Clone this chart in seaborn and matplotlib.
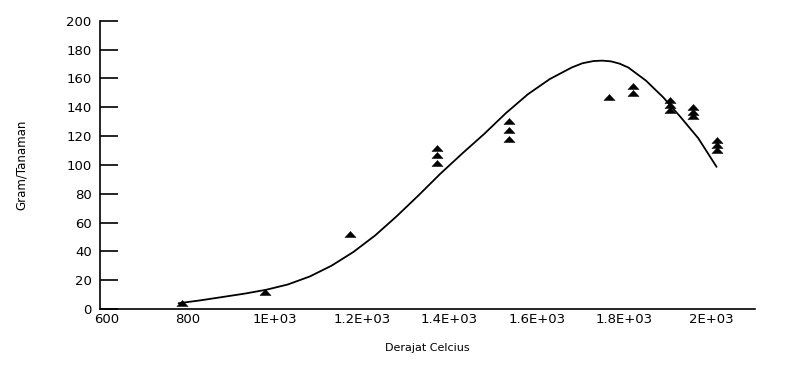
import matplotlib
matplotlib.use("Agg")
import matplotlib.pyplot as plt
from matplotlib.path import Path
from matplotlib.ticker import FixedLocator, FixedFormatter
from matplotlib.transforms import ScaledTranslation
import seaborn as sns
import pandas as pd

# Observed yield per plant at each temperature (replicates share a temperature)
temp_obs = [787, 978, 1172,
            1371, 1371, 1371,
            1537, 1537, 1537,
            1766,
            1821, 1821,
            1905, 1905, 1905,
            1959, 1959, 1959,
            2012, 2012, 2012]
yield_obs = [4, 12, 52,
             112, 107, 101.5,
             130.5, 124, 118,
             147,
             155, 150,
             145, 141.5, 138,
             140, 137, 134,
             117, 113.5, 110]

# Fitted response curve
temp_fit = [780, 830, 880, 930, 980, 1030, 1080, 1130, 1180, 1230,
            1280, 1330, 1380, 1430, 1480, 1530, 1580, 1630, 1680, 1705,
            1730, 1750, 1770, 1790, 1810, 1850, 1890, 1930, 1970, 2012]
yield_fit = [4.0, 6.0, 8.3, 10.6, 13.3, 17.0, 22.5, 30.0, 39.5, 51.0,
             64.5, 79.0, 94.0, 108.0, 121.5, 136.0, 149.0, 159.5, 167.5, 170.5,
             172.0, 172.3, 171.8, 170.2, 167.5, 158.5, 146.8, 133.0, 118.5, 98.6]

x_ticks = [600, 800, 1000, 1200, 1400, 1600, 1800, 2000]
x_tick_labels = ["600", "800", "1E+03", "1.2E+03", "1.4E+03", "1.6E+03", "1.8E+03", "2E+03"]
y_ticks = [0, 20, 40, 60, 80, 100, 120, 140, 160, 180, 200]

obs = pd.DataFrame({"suhu": temp_obs, "hasil": yield_obs})
fit = pd.DataFrame({"suhu": temp_fit, "hasil": yield_fit})

sns.set_theme(style="white")
plt.rcParams["font.family"] = ["DejaVu Sans"]

fig = plt.figure(figsize=(7.95, 3.72), dpi=100)
ax = fig.add_axes([100 / 795, 63 / 372, 655 / 795, 288.3 / 372])

sns.lineplot(data=fit, x="suhu", y="hasil", ax=ax, color="black",
             linewidth=1.3, sort=False, estimator=None)

# flattened solid triangle
tri = Path([(-1.0, -0.55), (1.0, -0.55), (0.0, 0.55), (-1.0, -0.55)],
           [Path.MOVETO, Path.LINETO, Path.LINETO, Path.CLOSEPOLY])
sns.scatterplot(data=obs, x="suhu", y="hasil", ax=ax, marker=tri, s=65,
                color="black", edgecolor="black", linewidth=0.3, zorder=3)

ax.set_xlim(600, 2100)
ax.set_ylim(0, 200)

ax.xaxis.set_major_locator(FixedLocator(x_ticks))
ax.xaxis.set_major_formatter(FixedFormatter(x_tick_labels))
ax.set_yticks(y_ticks)

for side in ("top", "right"):
    ax.spines[side].set_visible(False)
for side in ("left", "bottom"):
    ax.spines[side].set_color("black")
    ax.spines[side].set_linewidth(1.2)

ax.tick_params(axis="y", left=True, direction="in", length=13, width=1.2,
               color="black", labelsize=9.5, pad=6, labelcolor="black")
ax.tick_params(axis="x", bottom=False, length=0, labelsize=9.5, pad=3,
               labelcolor="black")

# nudge the first x label clear of the y-axis "0"
fig.canvas.draw()
first = ax.get_xticklabels()[0]
first.set_transform(first.get_transform() +
                    ScaledTranslation(7 / 100, 0, fig.dpi_scale_trans))

ax.set_xlabel("Derajat Celcius", fontsize=8, labelpad=12, color="black")
ax.set_ylabel("Gram/Tanaman", fontsize=8.5, labelpad=28, color="black")

fig.savefig("out.png", dpi=100, facecolor="white")
